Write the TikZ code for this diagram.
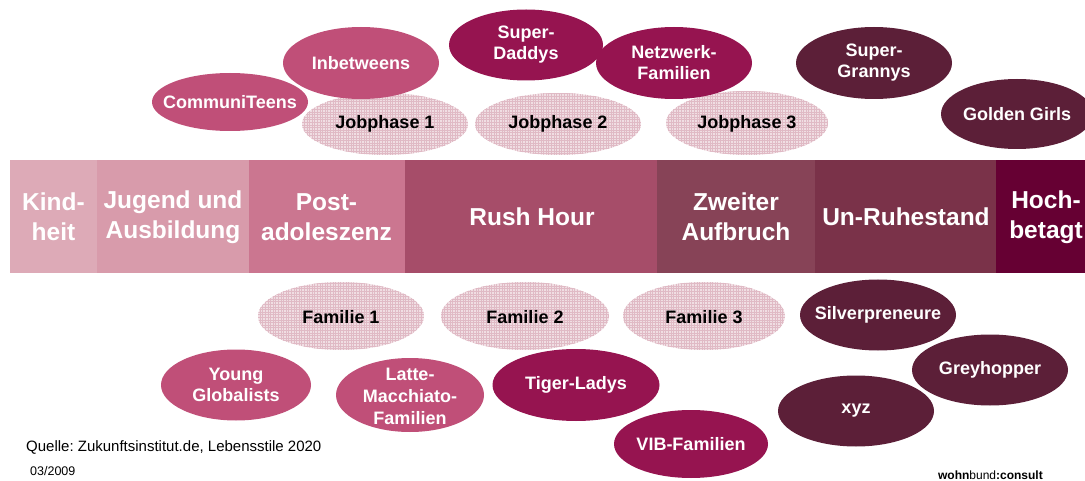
\documentclass[tikz,border=0pt]{standalone}
\usepackage{fontspec}
\setmainfont{Liberation Sans}
\usepackage{tikz}
\usetikzlibrary{patterns}
\frenchspacing

\definecolor{kindcol}{HTML}{DDAAB7}
\definecolor{jugendcol}{HTML}{D89BAB}
\definecolor{postcol}{HTML}{CB7690}
\definecolor{rushcol}{HTML}{A64D69}
\definecolor{zweitcol}{HTML}{874357}
\definecolor{unruhcol}{HTML}{7A3249}
\definecolor{hochcol}{HTML}{660033}
\definecolor{pinkcol}{HTML}{C04F78}
\definecolor{magentacol}{HTML}{961450}
\definecolor{maroncol}{HTML}{5C1F38}
\definecolor{hatchbase}{HTML}{F0DEE3}
\definecolor{hatchline}{HTML}{E0BAC5}

\pgfdeclarepatternformonly{finegrid}{\pgfqpoint{-1pt}{-1pt}}{\pgfqpoint{3.5pt}{3.5pt}}{\pgfqpoint{2.6pt}{2.6pt}}{%
  \pgfsetlinewidth{0.45pt}%
  \pgfpathmoveto{\pgfqpoint{0pt}{0pt}}\pgfpathlineto{\pgfqpoint{2.7pt}{0pt}}%
  \pgfpathmoveto{\pgfqpoint{0pt}{0pt}}\pgfpathlineto{\pgfqpoint{0pt}{2.7pt}}%
  \pgfusepath{stroke}}

\tikzset{
  stage/.style={rectangle, inner sep=0pt, minimum height=113, text=white, align=center,
    font=\bfseries\fontsize{24.5}{30}\selectfont},
  ovaltext/.style={inner sep=0pt, align=center, text=white,
    font=\bfseries\fontsize{18}{21}\selectfont},
  phasetext/.style={ovaltext, text=black},
  phasefill/.style={fill=hatchbase, postaction={pattern=finegrid, pattern color=hatchline}},
}

\begin{document}
\begin{tikzpicture}[x=1pt, y=-1pt]
		\useasboundingbox (0,0) rectangle (1085,481);
		
		%%%%% LEBENSPHASEN %%%%%
		
		\node[stage, fill=kindcol, minimum width=88] (kind) at (53.5,217) {Kind-\\heit};
		\node[stage, fill=jugendcol, minimum width=153] (jugend) at (173,217) {Jugend und\\Ausbildung};
		\node[stage, fill=postcol, minimum width=156] (post) at (326.5,217) {Post-\\adoleszenz};
		\node[stage, fill=rushcol, minimum width=254] (rush) at (532,217) {Rush Hour};
		\node[stage, fill=zweitcol, minimum width=159] (zweit) at (736,217) {Zweiter\\Aufbruch};
		\node[stage, fill=unruhcol, minimum width=183] (unruh) at (906,217) {Un-Ruhestand};
		\node[stage, fill=hochcol, minimum width=100] (hoch) at (1046,217) {Hoch-\\betagt};
		
		%%%%% JOB- UND FAMILIENPHASEN %%%%%
		
		\fill[phasefill] (385,124) ellipse (83 and 31);
		\node[phasetext] (job1) at (385,124) {Jobphase 1};
		\fill[phasefill] (558,124) ellipse (83 and 31);
		\node[phasetext] (job2) at (558,124) {Jobphase 2};
		\fill[phasefill] (747,123) ellipse (81 and 32);
		\node[phasetext] (job3) at (747,124) {Jobphase 3};
		
		\fill[phasefill] (341,316) ellipse (83 and 34);
		\node[phasetext] (fam1) at (341,317) {Familie 1};
		\fill[phasefill] (525,316) ellipse (84 and 34);
		\node[phasetext] (fam2) at (525,317) {Familie 2};
		\fill[phasefill] (704,316) ellipse (81 and 34);
		\node[phasetext] (fam3) at (704,317) {Familie 3};
		
		%%%%% LEBENSSTILE OBEN %%%%%
		
		\fill[pinkcol] (230,102) ellipse (78 and 29);
		\node[ovaltext] (communi) at (230,102) {CommuniTeens};
		\fill[pinkcol] (361,63) ellipse (78 and 36);
		\node[ovaltext] (inbetw) at (361,63) {Inbetweens};
		\fill[magentacol] (526,45) ellipse (77 and 35.5);
		\node[ovaltext] (daddys) at (526,45) {Super-\\Daddys};
		\fill[magentacol] (674,63) ellipse (78 and 36);
		\node[ovaltext] (netzwerk) at (674,63) {Netzwerk-\\Familien};
		\fill[maroncol] (874,63) ellipse (78 and 36);
		\node[ovaltext] (grannys) at (874,63) {Super-\\Grannys};
		\fill[maroncol] (1017,114) ellipse (76 and 35);
		\node[ovaltext] (golden) at (1017,114) {Golden Girls};
		
		%%%%% LEBENSSTILE UNTEN %%%%%
		
		\fill[pinkcol] (236,385) ellipse (75 and 35.5);
		\node[ovaltext] (young) at (236,385) {Young\\Globalists};
		\fill[pinkcol] (410,395) ellipse (74 and 37);
		\node[ovaltext, font=\bfseries\fontsize{18}{22}\selectfont] (latte) at (410,396) {Latte-\\Macchiato-\\Familien};
		\fill[magentacol] (576,385) ellipse (83.5 and 36);
		\node[ovaltext] (tiger) at (576,385) {Tiger-Ladys};
		\fill[magentacol] (691,444) ellipse (77 and 34);
		\node[ovaltext] (vib) at (691,444) {VIB-Familien};
		\fill[maroncol] (878,315) ellipse (78 and 35.5);
		\node[ovaltext] (silver) at (878,315) {Silverpreneure};
		\fill[maroncol] (856,411) ellipse (78 and 35.5);
		\node[ovaltext] (xyz) at (856,411) {xyz};
		\fill[maroncol] (990,370) ellipse (78 and 35.5);
		\node[ovaltext] (grey) at (990,370) {Greyhopper};
		
		%%%%% FUSSZEILE %%%%%
		
		\node[anchor=base west, inner sep=0pt, font=\fontsize{15}{18}\selectfont] (quelle) at (26,451) {Quelle: Zukunftsinstitut.de, Lebensstile 2020};
		\node[anchor=base west, inner sep=0pt, font=\fontsize{12.5}{15}\selectfont] (datum) at (30,475) {03/2009};
		\node[anchor=base east, inner sep=0pt, font=\fontsize{12}{14}\selectfont] (logo) at (1043,479) {\textbf{wohn}bund\textbf{:consult}};
		
	\end{tikzpicture}
\end{document}
